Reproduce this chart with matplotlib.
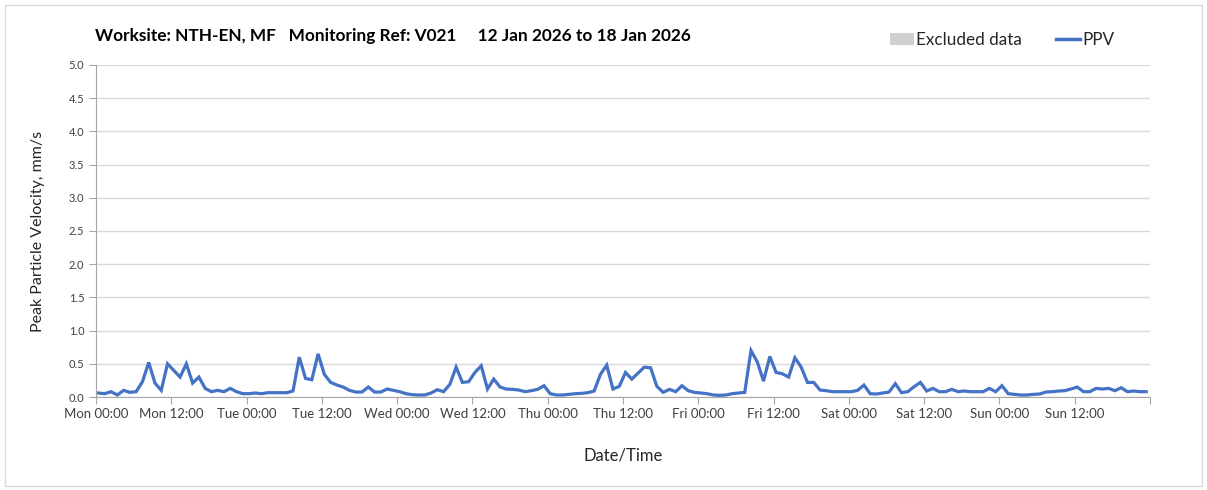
import matplotlib
matplotlib.use("Agg")
import matplotlib.pyplot as plt
from matplotlib.patches import Patch, Rectangle
from matplotlib.lines import Line2D
import numpy as np

plt.rcParams['font.family'] = ['Lato', 'DejaVu Sans']

# hourly PPV readings (mm/s), one list per day, Mon..Sun
mon = [0.06, 0.05, 0.08, 0.03, 0.10, 0.07, 0.08, 0.23, 0.52, 0.21, 0.10, 0.50,
       0.40, 0.30, 0.50, 0.21, 0.30, 0.13, 0.08, 0.10, 0.08, 0.13, 0.08, 0.05]
tue = [0.05, 0.06, 0.05, 0.065, 0.065, 0.065, 0.065, 0.09, 0.60, 0.28, 0.26, 0.65,
       0.34, 0.22, 0.18, 0.15, 0.10, 0.075, 0.075, 0.15, 0.075, 0.075, 0.12, 0.10]
wed = [0.08, 0.05, 0.035, 0.03, 0.03, 0.06, 0.11, 0.08, 0.19, 0.45, 0.22, 0.23,
       0.37, 0.47, 0.12, 0.27, 0.15, 0.12, 0.115, 0.105, 0.08, 0.095, 0.115, 0.17]
thu = [0.05, 0.03, 0.03, 0.04, 0.05, 0.055, 0.065, 0.09, 0.34, 0.48, 0.12, 0.16,
       0.37, 0.27, 0.36, 0.45, 0.44, 0.16, 0.07, 0.115, 0.08, 0.17, 0.095, 0.07]
fri = [0.06, 0.05, 0.03, 0.025, 0.03, 0.05, 0.06, 0.07, 0.70, 0.53, 0.24, 0.61,
       0.37, 0.35, 0.30, 0.59, 0.45, 0.22, 0.22, 0.105, 0.095, 0.08, 0.08, 0.08]
sat = [0.08, 0.10, 0.18, 0.05, 0.045, 0.06, 0.075, 0.20, 0.065, 0.08, 0.155, 0.22,
       0.09, 0.13, 0.08, 0.08, 0.115, 0.08, 0.09, 0.08, 0.08, 0.08, 0.13, 0.08]
sun = [0.17, 0.05, 0.04, 0.03, 0.03, 0.04, 0.045, 0.075, 0.08, 0.09, 0.095, 0.12,
       0.15, 0.08, 0.08, 0.13, 0.12, 0.13, 0.095, 0.14, 0.08, 0.09, 0.08, 0.08]

days = ['Mon', 'Tue', 'Wed', 'Thu', 'Fri', 'Sat', 'Sun']
ppv = np.array(mon + tue + wed + thu + fri + sat + sun)
hours = np.arange(len(ppv)) + 0.4   # readings logged at ~hh:25

title = "Worksite: NTH-EN, MF   Monitoring Ref: V021     12 Jan 2026 to 18 Jan 2026"

fig = plt.figure(figsize=(12.07, 4.9), dpi=100)
fig.patches.append(Rectangle((0.004, 0.008), 0.992, 0.982, transform=fig.transFigure,
                             fill=False, edgecolor='#d9d9d9', lw=1))
ax = fig.add_axes([96 / 1207, 1 - 397 / 490, (1150 - 96) / 1207, (397 - 65) / 490])

ax.plot(hours, ppv, color='#4472C4', lw=2.3, solid_joinstyle='miter')

ax.set_xlim(0, 168)
ax.set_ylim(0, 5)
ax.set_yticks(np.arange(0, 5.01, 0.5))
ax.set_yticklabels(['%.1f' % v for v in np.arange(0, 5.01, 0.5)])
xt = np.arange(0, 169, 12)
ax.set_xticks(xt)
labels = ['%s %s' % (days[i // 2], '00:00' if i % 2 == 0 else '12:00') for i in range(14)] + ['']
ax.set_xticklabels(labels)
ax.set_xticks(np.arange(24, 169, 24), minor=True)
ax.tick_params(axis='x', which='minor', length=0)
ax.tick_params(axis='x', which='major', length=5, color='#a6a6a6', labelsize=9.5,
               labelcolor='#404040', pad=3)
ax.tick_params(axis='y', length=5, color='#a6a6a6', labelsize=8, labelcolor='#404040')

ax.grid(axis='y', which='major', color='#d9d9d9', lw=1)
ax.grid(axis='x', which='minor', color='#d9d9d9', lw=1)
ax.set_axisbelow(True)
for s in ['top', 'right']:
    ax.spines[s].set_visible(False)
ax.spines['left'].set_color('#a6a6a6')
ax.spines['bottom'].set_color('#a6a6a6')

ax.set_ylabel('Peak Particle Velocity, mm/s', fontsize=11.5, color='#262626', labelpad=17)
ax.set_xlabel('Date/Time', fontsize=12, color='#262626', labelpad=20)

fig.text(95 / 1207, 1 - 36 / 490, title, fontsize=12.4, fontweight='bold',
         va='center', ha='left', color='#000000')

handles = [Patch(facecolor='#d0d0d0', edgecolor='none', label='Excluded data'),
           Line2D([0], [0], color='#4472C4', lw=2.5, label='PPV')]
fig.legend(handles=handles, loc='center left', bbox_to_anchor=(875 / 1207, 1 - 40 / 490),
           ncol=2, frameon=False, fontsize=12.3, handlelength=1.4, handletextpad=0.12,
           columnspacing=2.0, labelcolor='#262626')

fig.savefig('out.png', dpi=100)
